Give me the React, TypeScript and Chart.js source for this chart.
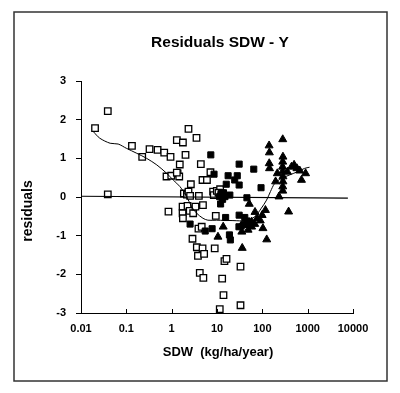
import { useEffect, useRef } from "react";
import { Chart, registerables } from "chart.js";

Chart.register(...registerables);

// Open squares
const openX = [0.0204, 0.039, 0.039, 0.133, 0.224, 0.325, 0.489, 0.685, 0.944, 0.77, 0.98, 0.85, 1.3, 1.77, 2.02, 1.51, 1.35, 1.47, 1.3, 2.35, 3.53, 2.65, 4.4, 4.79, 6.0, 7.17, 1.86, 2.17, 2.35, 2.55, 3.98, 8.2, 8.5, 9.9, 11.7, 10.8, 12.4, 1.74, 1.74, 1.77, 2.24, 2.5, 2.98, 3.35, 4.9, 2.88, 3.9, 4.6, 3.59, 3.8, 4.8, 5.2, 4.17, 5.0, 8.9, 9.4, 13.0, 13.9, 11.5, 14.6, 16.2, 33.0, 33.0];
const openY = [1.78, 2.22, 0.07, 1.32, 1.04, 1.24, 1.22, 1.15, 1.04, 0.53, 0.55, -0.38, 1.47, 1.41, 1.09, 0.84, 0.61, 0.53, 0.63, 1.76, 1.53, 0.33, 0.85, 0.44, 0.44, 0.64, 0.09, 0.06, 0.14, 0.03, 0.03, 0.14, 0.05, 0.16, 0.2, 0.11, 0.05, -0.25, -0.42, -0.55, -0.23, -0.36, -0.42, -0.25, -0.21, -1.08, -0.82, -0.77, -1.3, -1.52, -1.33, -1.47, -1.96, -2.09, -1.33, -0.49, -2.11, -2.54, -2.9, -1.66, -1.6, -1.8, -2.8];

// Filled squares
const filledX = [7.3, 8.6, 30.8, 64.7, 17.6, 24.6, 28, 30.8, 16, 93.6, 12.5, 11.4, 13.3, 13.9, 15, 19.2, 12, 45.7, 2.55, 7.8, 5.5, 15.5, 18.8, 19.7, 30.8, 41, 46, 30.5, 39, 52];
const filledY = [1.09, 0.59, 0.85, 0.72, 0.55, 0.44, 0.55, 0.31, 0.33, 0.24, 0.11, 0.01, -0.06, 0.11, 0.01, 0.05, -0.18, -0.02, -0.7, -0.82, -0.88, -0.53, -0.98, -1.11, -0.47, -0.53, -0.62, -0.77, -0.71, -0.72];

// Filled triangles
const triX = [141, 143, 142, 144, 282, 285, 282, 280, 282, 285, 285, 282, 282, 502, 579, 440, 357, 670, 900, 730, 214, 196, 233, 380, 117, 125, 51.5, 69, 99, 77, 68, 58, 90, 103, 35.3, 33, 36, 13.7, 10.5, 58, 48.5];
const triY = [1.33, 1.15, 0.87, 0.74, 1.49, 1.04, 0.91, 0.78, 0.66, 0.53, 0.4, 0.27, 0.16, 0.83, 0.74, 0.78, 0.65, 0.68, 0.61, 0.44, 0.61, 0.4, 0.01, -0.38, -0.34, -1.1, -0.18, -0.39, -0.47, -0.55, -0.7, -0.77, -0.61, -0.81, -0.9, -0.77, -1.32, -0.77, -1.03, -0.64, -0.85];

// Smoothed trend curve
const curveX = [0.0187, 0.026, 0.044, 0.066, 0.1, 0.17, 0.28, 0.47, 0.78, 1.08, 1.52, 2.14, 2.75, 3.56, 4.9, 6.3, 9.7, 22.5, 44.3, 68, 95, 124, 151, 187, 263, 400, 614, 856, 1100];
const curveY = [1.69, 1.52, 1.39, 1.37, 1.26, 1.13, 1.0, 0.83, 0.61, 0.44, 0.27, 0.01, -0.25, -0.42, -0.55, -0.6, -0.6, -0.61, -0.61, -0.51, -0.29, -0.08, 0.14, 0.35, 0.48, 0.57, 0.66, 0.74, 0.77];

// Zero reference line
const zeroX = [0.01, 7700];
const zeroY = [0.02, -0.03];

const xTicks = [0.01, 0.1, 1, 10, 100, 1000, 10000];
const xTickLabels = ["0.01", "0.1", "1", "10", "100", "1000", "10000"];

const titleText = "Residuals SDW - Y";
const xTitle = "SDW  (kg/ha/year)";
const yTitle = "residuals";

const FONT = "'Liberation Sans', Arial, Helvetica, sans-serif";

function zip(xs: number[], ys: number[]) {
  return xs.map((x, i) => ({ x, y: ys[i] }));
}

export default function App() {
  const ref = useRef<HTMLCanvasElement>(null);

  useEffect(() => {
    if (!ref.current) return;
    const deco = {
      id: "deco",
      afterDraw(chart: any) {
        const { ctx, chartArea, scales } = chart;
        ctx.save();
        // inward x ticks
        ctx.strokeStyle = "#000";
        ctx.lineWidth = 1;
        for (const v of xTicks) {
          const px = Math.round(scales.x.getPixelForValue(v)) + 0.5;
          ctx.beginPath();
          ctx.moveTo(px, chartArea.bottom);
          ctx.lineTo(px, chartArea.bottom - 4);
          ctx.stroke();
        }
        // frame
        ctx.strokeStyle = "#333";
        ctx.lineWidth = 1.5;
        ctx.strokeRect(14, 12, 373, 369);
        // titles
        ctx.fillStyle = "#000";
        ctx.textAlign = "center";
        ctx.textBaseline = "middle";
        ctx.font = `bold 15.5px ${FONT}`;
        ctx.fillText(titleText, 220, 43);
        ctx.font = `bold 13px ${FONT}`;
        ctx.fillText(xTitle, 218, 352);
        ctx.translate(28, 211);
        ctx.rotate(-Math.PI / 2);
        ctx.font = `bold 14px ${FONT}`;
        ctx.fillText(yTitle, 0, 0);
        ctx.restore();
      },
    };

    const chart = new Chart(ref.current, {
      type: "scatter",
      data: {
        datasets: [
          {
            data: zip(curveX, curveY),
            showLine: true,
            borderColor: "#000",
            borderWidth: 1,
            pointRadius: 0,
            tension: 0.3,
            fill: false,
          },
          {
            data: zip(zeroX, zeroY),
            showLine: true,
            borderColor: "#000",
            borderWidth: 1.2,
            pointRadius: 0,
            fill: false,
          },
          {
            data: zip(triX, triY),
            pointStyle: "triangle",
            pointRadius: 4.6,
            backgroundColor: "#000",
            borderColor: "#000",
            borderWidth: 1,
          },
          {
            data: zip(filledX, filledY),
            pointStyle: "rect",
            pointRadius: 4.3,
            backgroundColor: "#000",
            borderColor: "#000",
            borderWidth: 1,
          },
          {
            data: zip(openX, openY),
            pointStyle: "rect",
            pointRadius: 4.6,
            backgroundColor: "#fff",
            borderColor: "#000",
            borderWidth: 1.3,
          },
        ],
      },
      options: {
        responsive: false,
        animation: false,
        layout: { padding: { top: 81, right: 47, left: 0, bottom: 0 } },
        plugins: {
          legend: { display: false },
          tooltip: { enabled: false },
          title: { display: false },
        },
        scales: {
          x: {
            type: "logarithmic",
            min: 0.01,
            max: 10000,
            afterBuildTicks: (scale: any) => {
              scale.ticks = xTicks.map((v) => ({ value: v }));
            },
            afterFit: (scale: any) => {
              scale.height = 80;
            },
            ticks: {
              color: "#000",
              font: { family: FONT, size: 11, weight: "bold" },
              padding: 9,
              maxRotation: 0,
              autoSkip: false,
              callback: (v: any) => {
                const i = xTicks.findIndex((t) => Math.abs(Math.log10(t) - Math.log10(Number(v))) < 1e-6);
                return i >= 0 ? xTickLabels[i] : "";
              },
            },
            grid: { drawOnChartArea: false, drawTicks: false, color: "#000" },
            border: { display: true, color: "#000", width: 1 },
          },
          y: {
            type: "linear",
            min: -3,
            max: 3,
            afterFit: (scale: any) => {
              scale.width = 81;
            },
            ticks: {
              stepSize: 1,
              color: "#000",
              font: { family: FONT, size: 11, weight: "bold" },
              padding: 10,
            },
            grid: { drawOnChartArea: false, drawTicks: true, tickLength: 5, color: "#000" },
            border: { display: true, color: "#000", width: 1 },
          },
        },
      },
      plugins: [deco],
    });
    return () => chart.destroy();
  }, []);

  return (
    <canvas
      ref={ref}
      width={400}
      height={393}
      style={{ position: "absolute", left: 0, top: 0, width: 400, height: 393 }}
    />
  );
}
